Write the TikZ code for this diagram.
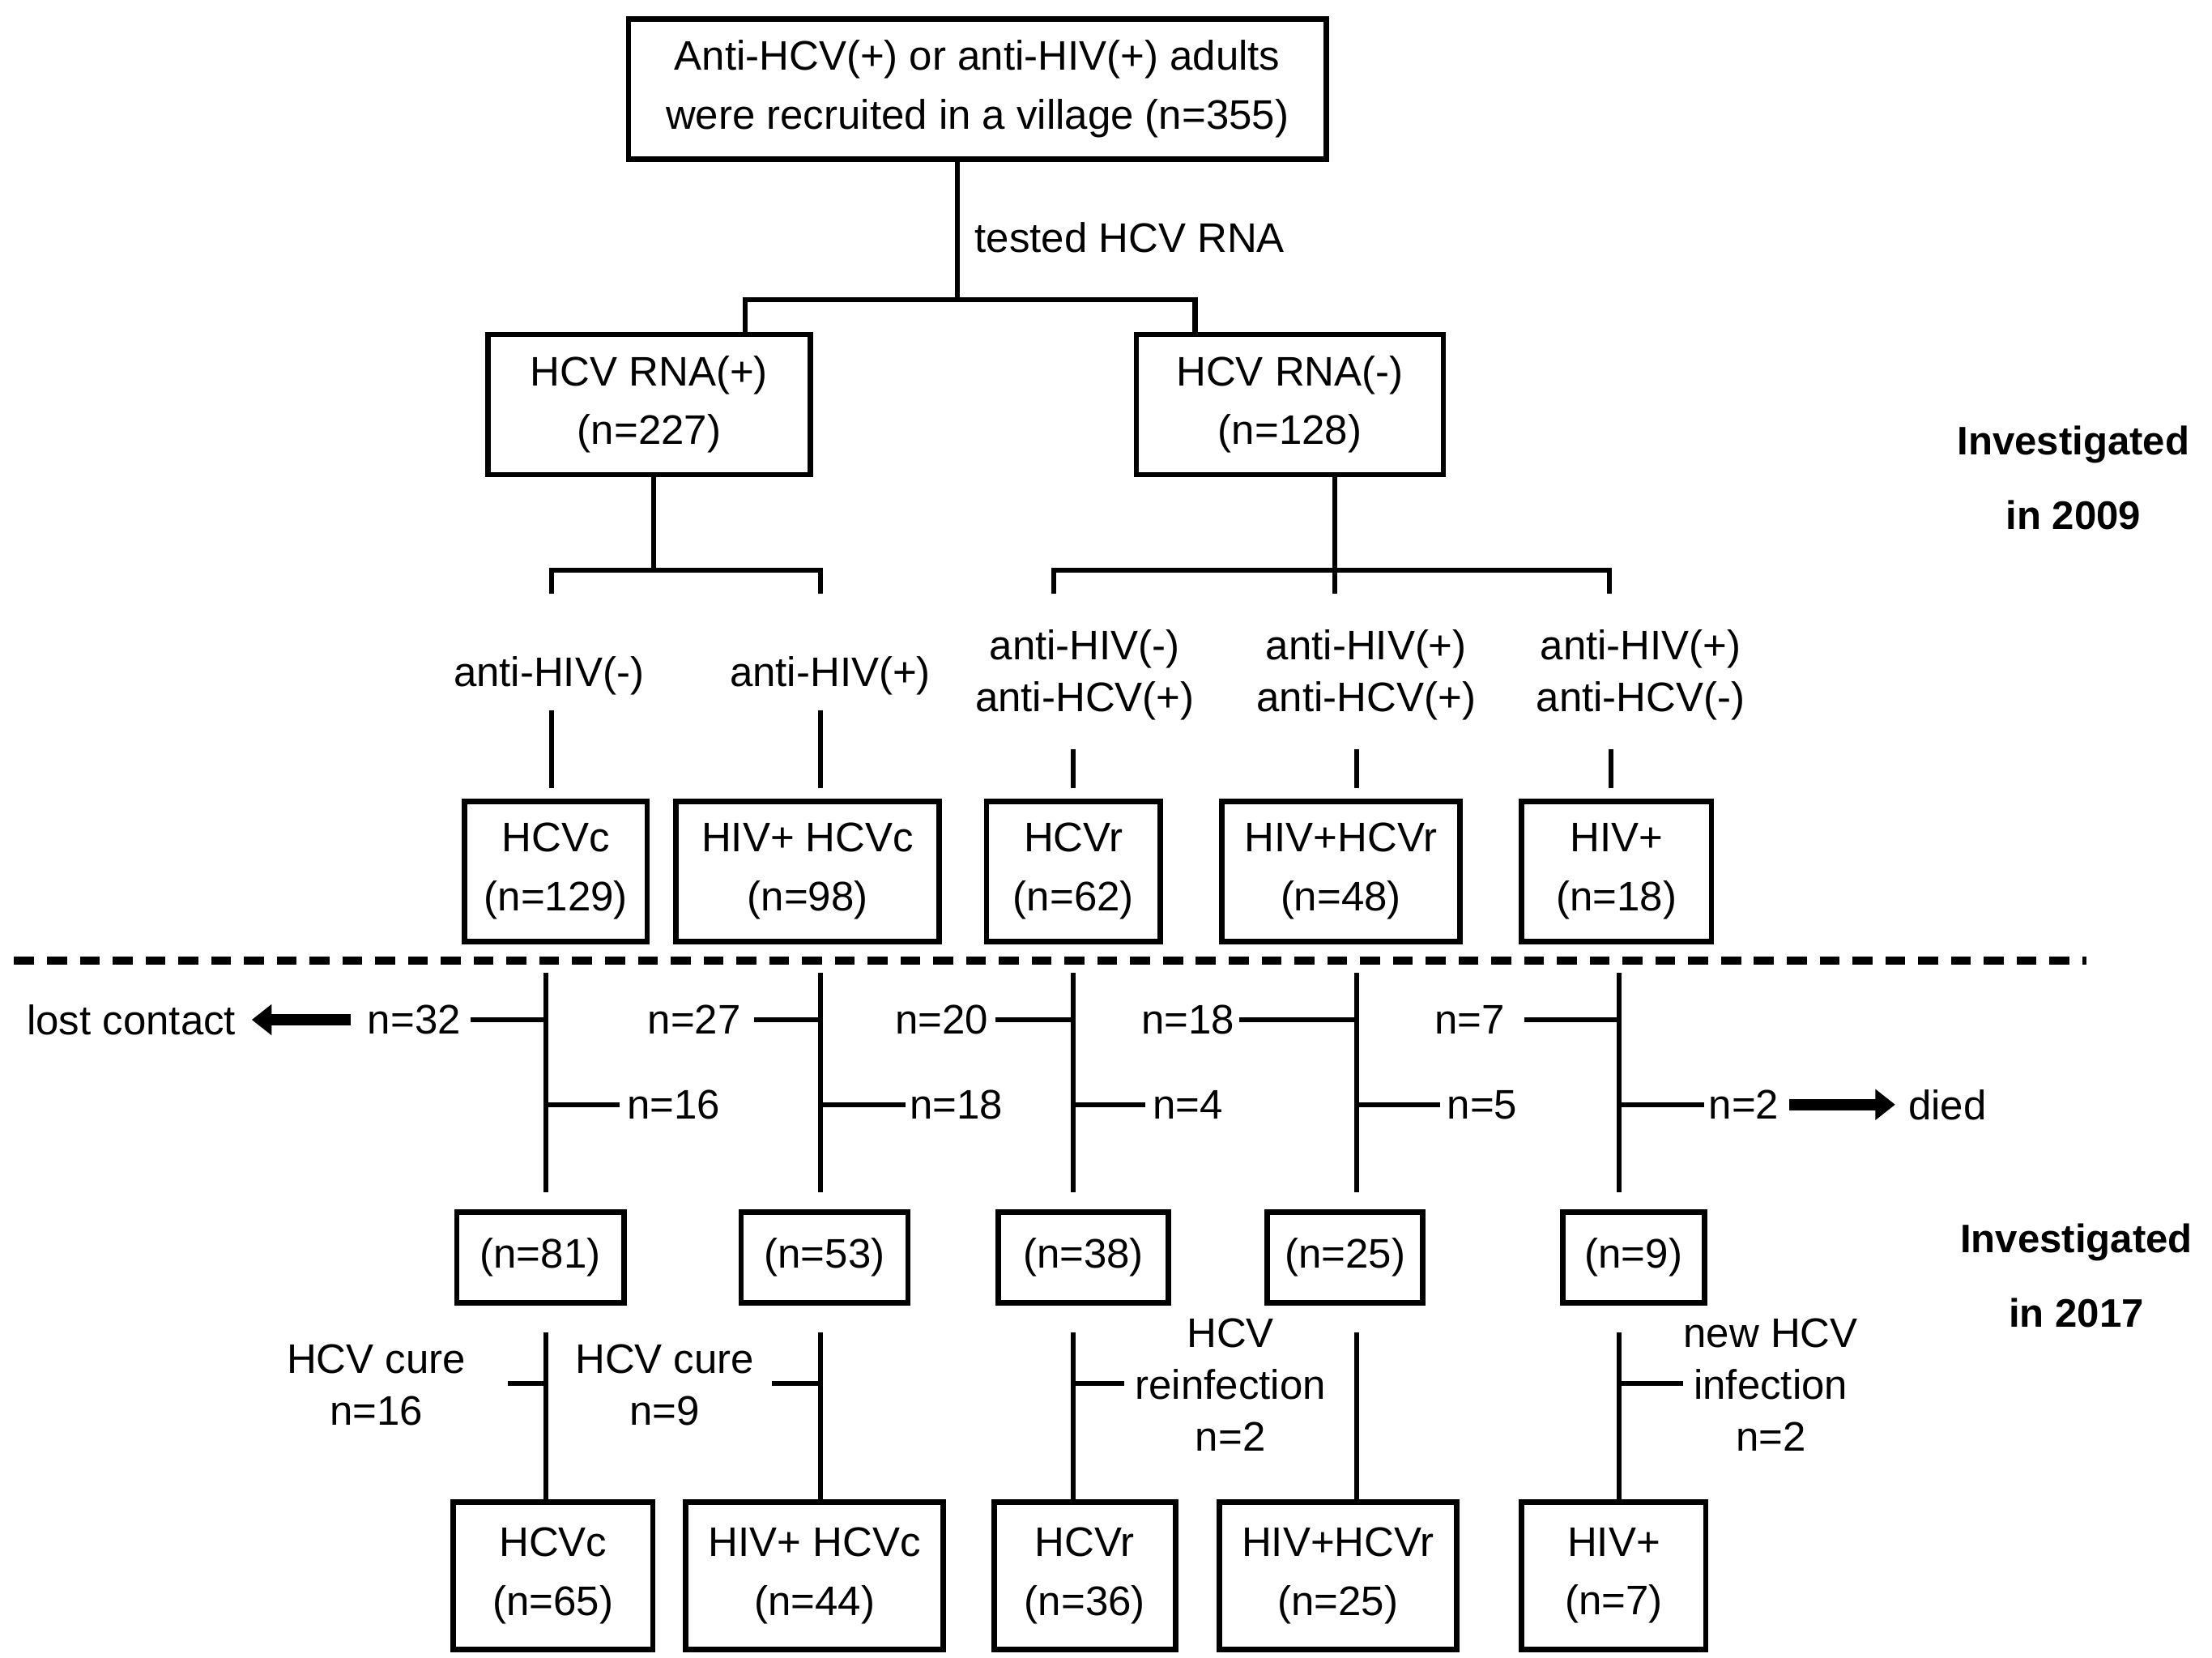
\documentclass[tikz,border=0pt]{standalone}
\usepackage{fontspec}
\setmainfont{Liberation Sans}
\usetikzlibrary{arrows.meta}
\begin{document}
\begin{tikzpicture}[x=0.01cm,y=-0.01cm,line width=1pt,
  box/.style={draw,line width=1.1pt,align=center,inner sep=0pt,font=\fontsize{8.3}{11.8}\selectfont},
  lab/.style={align=center,inner sep=1pt,font=\fontsize{8.3}{10.4}\selectfont},
  side/.style={align=center,inner sep=0pt,font=\bfseries\fontsize{8}{15}\selectfont},
  fat/.style={-{Triangle[length=4pt,width=6pt]},line width=2.2pt}]
\useasboundingbox (0,0) rectangle (1564,1172);
% top
\node[box,minimum width=4.93cm,minimum height=0.99cm] (top) at (691,63) {Anti-HCV(+) or anti-HIV(+) adults\\were recruited in a village (n=355)};
\node[box,minimum width=2.28cm,minimum height=0.99cm] (pos) at (459,286) {HCV RNA(+)\\(n=227)};
\node[box,minimum width=2.17cm,minimum height=0.99cm] (neg) at (912,286) {HCV RNA(-)\\(n=128)};
\coordinate (j0) at (677,212);
\draw (677,113) -- (j0);
\node[lab,anchor=west] (t1) at (684,168) {tested HCV RNA};
\draw (527,237) -- (527,212) -- (845,212) -- (845,237);
% 2009 split
\draw (462,336) -- (462,403);
\draw (390,420) -- (390,403) -- (580,403) -- (580,420);
\draw (944,336) -- (944,420);
\draw (745,420) -- (745,403) -- (1138,403) -- (1138,420);
\node[lab] (l1) at (388,478) {anti-HIV(-)};
\node[lab] (l2) at (587,478) {anti-HIV(+)};
\node[lab] (l3) at (767,477) {anti-HIV(-)\\anti-HCV(+)};
\node[lab] (l4) at (966,477) {anti-HIV(+)\\anti-HCV(+)};
\node[lab] (l5) at (1160,477) {anti-HIV(+)\\anti-HCV(-)};
\foreach \x in {390,580}{\draw (\x,502) -- (\x,557);}
\foreach \x in {759,959,1139}{\draw (\x,530) -- (\x,557);}
% row 1
\node[box,minimum width=1.29cm,minimum height=0.99cm] (a1) at (393,616) {HCVc\\(n=129)};
\node[box,minimum width=1.86cm,minimum height=0.99cm] (b1) at (571,616) {HIV+ HCVc\\(n=98)};
\node[box,minimum width=1.23cm,minimum height=0.99cm] (c1) at (759,616) {HCVr\\(n=62)};
\node[box,minimum width=1.68cm,minimum height=0.99cm] (d1) at (948,616) {HIV+HCVr\\(n=48)};
\node[box,minimum width=1.34cm,minimum height=0.99cm] (e1) at (1143,616) {HIV+\\(n=18)};
\draw[dash pattern=on 4pt off 2.6pt,line width=1.6pt] (10,679) -- (1475,679);
% verticals
\foreach \x in {386,580,759,959,1145}{\draw (\x,688) -- (\x,843);}
% left branches
\node[lab,anchor=east] (n32) at (331,721) {n=32};
\draw (333,721) -- (386,721);
\draw[fat] (248,721) -- (178,721);
\node[lab,anchor=east] (lost) at (172,721) {lost contact};
\node[lab,anchor=east] (n27) at (529,721) {n=27}; \draw (533,721) -- (580,721);
\node[lab,anchor=east] (n20) at (704,721) {n=20}; \draw (704,721) -- (759,721);
\node[lab,anchor=east] (n18a) at (878,721) {n=18}; \draw (876,721) -- (959,721);
\node[lab,anchor=east] (n7) at (1069,721) {n=7}; \draw (1078,721) -- (1145,721);
% right branches
\draw (386,781) -- (438,781); \node[lab,anchor=west] (n16) at (438,781) {n=16};
\draw (580,781) -- (640,781); \node[lab,anchor=west] (n18) at (638,781) {n=18};
\draw (759,781) -- (810,781); \node[lab,anchor=west] (n4) at (810,781) {n=4};
\draw (959,781) -- (1018,781); \node[lab,anchor=west] (n5) at (1018,781) {n=5};
\draw (1145,781) -- (1205,781); \node[lab,anchor=west] (n2) at (1203,781) {n=2};
\draw[fat] (1265,781) -- (1340,781);
\node[lab,anchor=west] (died) at (1344,781) {died};
% row 2
\node[box,minimum width=1.18cm,minimum height=0.64cm] (a2) at (382,889) {(n=81)};
\node[box,minimum width=1.18cm,minimum height=0.64cm] (b2) at (583,889) {(n=53)};
\node[box,minimum width=1.20cm,minimum height=0.64cm] (c2) at (766,889) {(n=38)};
\node[box,minimum width=1.10cm,minimum height=0.64cm] (d2) at (951,889) {(n=25)};
\node[box,minimum width=1.00cm,minimum height=0.64cm] (e2) at (1155,889) {(n=9)};
\foreach \x in {386,580,759,959,1145}{\draw (\x,942) -- (\x,1060);}
\draw (359,978) -- (386,978);
\node[lab] (c16) at (266,979) {HCV cure\\n=16};
\draw (546,978) -- (580,978);
\node[lab] (c9) at (470,979) {HCV cure\\n=9};
\draw (759,978) -- (795,978);
\node[lab] (re) at (870,979) {HCV\\reinfection\\n=2};
\draw (1145,978) -- (1190,978);
\node[lab] (ni) at (1252,979) {new HCV\\infection\\n=2};
% row 3
\node[box,minimum width=1.41cm,minimum height=1.04cm] (a3) at (391,1114) {HCVc\\(n=65)};
\node[box,minimum width=1.82cm,minimum height=1.04cm] (b3) at (576,1114) {HIV+ HCVc\\(n=44)};
\node[box,minimum width=1.28cm,minimum height=1.04cm] (c3) at (767,1114) {HCVr\\(n=36)};
\node[box,minimum width=1.68cm,minimum height=1.04cm] (d3) at (946,1114) {HIV+HCVr\\(n=25)};
\node[box,minimum width=1.30cm,minimum height=1.04cm] (e3) at (1141,1114) {HIV+\\(n=7)};
% side
\node[side] (s1) at (1466,338) {Investigated\\in 2009};
\node[side] (s2) at (1468,902) {Investigated\\in 2017};
\end{tikzpicture}
\end{document}
